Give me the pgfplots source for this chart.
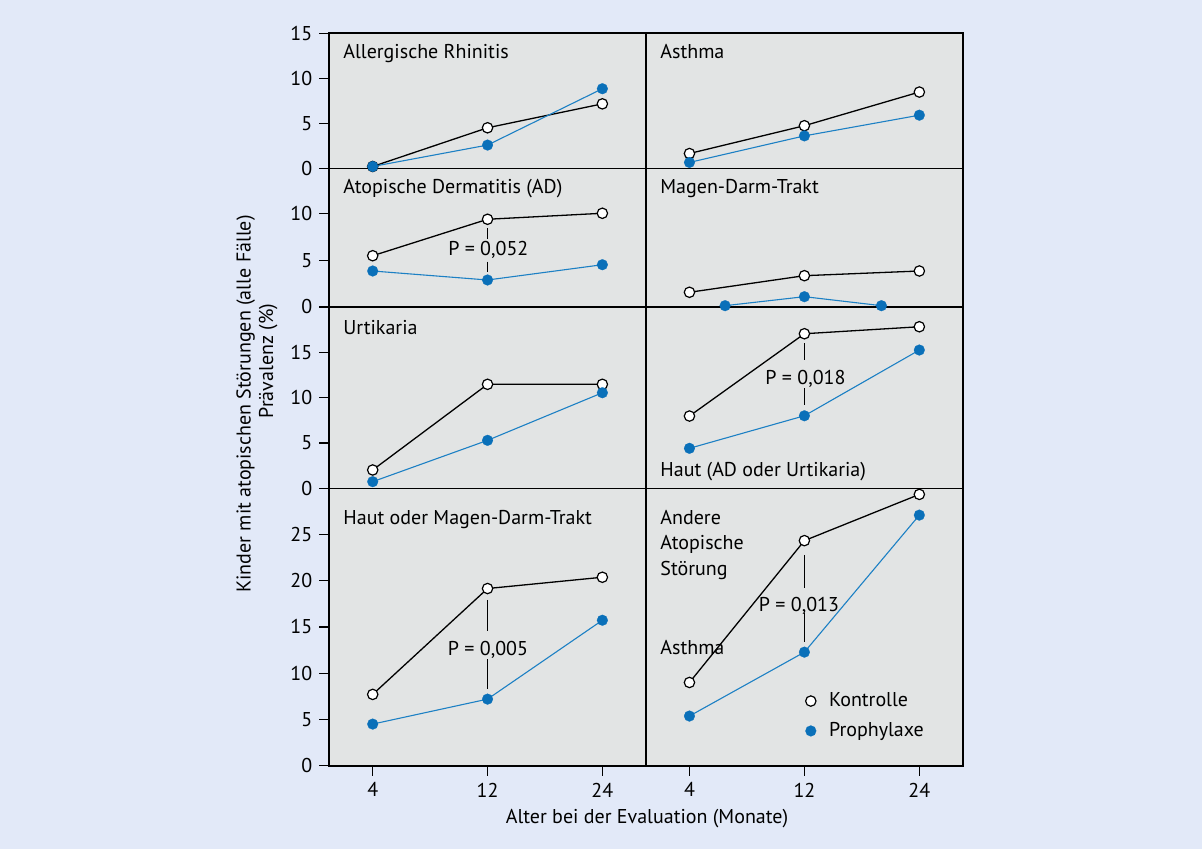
\documentclass[border=0pt]{standalone}
\usepackage{fontspec}
\setmainfont{PT Sans}
\usepackage{pgfplots}
\pgfplotsset{compat=1.18}
\definecolor{bgblue}{RGB}{226,233,248}
\definecolor{panel}{RGB}{226,228,228}
\definecolor{pblue}{RGB}{10,112,185}
\definecolor{lblue}{RGB}{28,128,196}
\newcommand{\tf}{\fontsize{10}{12}\selectfont}
\pgfplotsset{
  pan/.style={scale only axis, xmin=-0.378, xmax=2.38, ymin=0, clip=false,
    axis line style={line width=0.65pt}, tick align=outside, major tick length=5pt,
    tick style={line width=0.6pt,color=black}, xtick=\empty, ytick=\empty,
    ytick pos=left, xtick pos=bottom,
    /pgf/number format/assume math mode=true,
    tick label style={font=\tf}},
  L/.style={pan, width=158.35pt},
  R/.style={pan, width=158.5pt},
  kon/.style={forget plot, black, line width=0.65pt, mark=*, mark size=2.6pt,
    mark options={fill=white, draw=black, line width=0.6pt}},
  pro/.style={forget plot, color=lblue, line width=0.55pt, mark=*, mark size=2.7pt,
    mark options={fill=pblue, draw=pblue, line width=0.1pt}},
}
\begin{document}
\begin{tikzpicture}
\fill[bgblue] (0,0) rectangle (601pt,424.5pt);
\fill[panel] (164.65pt,41.65pt) rectangle (481.5pt,407.85pt);

% Row 4 left
\begin{axis}[L, height=138.7pt, at={(164.65pt,41.65pt)}, anchor=south west, ymax=30,
  ytick={0,5,10,15,20,25}, xtick={0,1,2}, xticklabels={4,12,24}]
\addplot[kon] coordinates {(0,7.71) (1,19.16) (2,20.38)};
\addplot[pro] coordinates {(0,4.5) (1,7.2) (2,15.73)};
\draw[line width=0.6pt] (axis cs:1,17.92) -- (axis cs:1,14.57);
\draw[line width=0.6pt] (axis cs:1,11.51) -- (axis cs:1,8.26);
\end{axis}
% Row 4 right
\begin{axis}[R, height=138.7pt, at={(323pt,41.65pt)}, anchor=south west, ymax=30,
  xtick={0,1,2}, xticklabels={4,12,24},
  legend style={at={(0.5016,0.179)}, anchor=west, draw=none, fill=none, inner sep=0pt,
    font=\tf, row sep=6.4pt, nodes={inner sep=0pt},
    /tikz/every odd column/.append style={column sep=6.4pt}},
  legend cell align=left]
\addplot[kon] coordinates {(0,9.0) (1,24.34) (2,29.34)};
\addplot[pro] coordinates {(0,5.37) (1,12.28) (2,27.1)};
\draw[line width=0.6pt] (axis cs:1,22.79) -- (axis cs:1,19.18);
\draw[line width=0.6pt] (axis cs:1,16.48) -- (axis cs:1,13.41);
\addlegendimage{only marks, mark=*, mark size=2.6pt, mark options={fill=white, draw=black, line width=0.6pt}}
\addlegendentry{Kontrolle}
\addlegendimage{only marks, mark=*, mark size=2.7pt, mark options={fill=pblue, draw=pblue, line width=0.1pt}}
\addlegendentry{Prophylaxe}
\end{axis}
% Row 3 left
\begin{axis}[L, height=90.65pt, at={(164.65pt,180.35pt)}, anchor=south west, ymax=20,
  ytick={0,5,10,15}]
\addplot[kon] coordinates {(0,2.02) (1,11.47) (2,11.47)};
\addplot[pro] coordinates {(0,0.73) (1,5.29) (2,10.54)};
\end{axis}
% Row 3 right
\begin{axis}[R, height=90.65pt, at={(323pt,180.35pt)}, anchor=south west, ymax=20]
\addplot[kon] coordinates {(0,7.97) (1,17.05) (2,17.82)};
\addplot[pro] coordinates {(0,4.41) (1,8.0) (2,15.25)};
\draw[line width=0.6pt] (axis cs:1,16.0) -- (axis cs:1,14.15);
\draw[line width=0.6pt] (axis cs:1,11.03) -- (axis cs:1,9.19);
\end{axis}
% Row 2 left
\begin{axis}[L, height=69.35pt, at={(164.65pt,271pt)}, anchor=south west, ymax=14.8,
  ytick={0,5,10}]
\addplot[kon] coordinates {(0,5.47) (1,9.36) (2,10.0)};
\addplot[pro] coordinates {(0,3.84) (1,2.88) (2,4.51)};
\draw[line width=0.6pt] (axis cs:1,8.40) -- (axis cs:1,7.26);
\draw[line width=0.6pt] (axis cs:1,4.83) -- (axis cs:1,3.77);
\end{axis}
% Row 2 right
\begin{axis}[R, height=69.35pt, at={(323pt,271pt)}, anchor=south west, ymax=14.8]
\addplot[kon] coordinates {(0,1.57) (1,3.34) (2,3.84)};
\addplot[pro] coordinates {(0.31,0.14) (1,1.1) (1.67,0.14)};
\end{axis}
% Row 1 left
\begin{axis}[L, height=67.5pt, at={(164.65pt,340.35pt)}, anchor=south west, ymax=15,
  ytick={0,5,10,15}]
\addplot[kon] coordinates {(0,0.2) (1,4.5) (2,7.16)};
\addplot[pro] coordinates {(0,0.2) (1,2.58) (2,8.84)};
\end{axis}
% Row 1 right
\begin{axis}[R, height=67.5pt, at={(323pt,340.35pt)}, anchor=south west, ymax=15]
\addplot[kon] coordinates {(0,1.64) (1,4.73) (2,8.47)};
\addplot[pro] coordinates {(0,0.65) (1,3.6) (2,5.9)};
\end{axis}

\draw[line width=1pt] (164.65pt,41.65pt) rectangle (481.5pt,407.85pt);

\begin{scope}[every node/.style={font=\tf, inner sep=0pt}]
\node[anchor=base west] at (171.5pt,395.35pt) {Allergische Rhinitis};
\node[anchor=base west] at (330pt,395.35pt) {Asthma};
\node[anchor=base west] at (171.5pt,327.85pt) {Atopische Dermatitis (AD)};
\node[anchor=base west] at (330pt,327.85pt) {Magen-Darm-Trakt};
\node[anchor=base west] at (171.5pt,257pt) {Urtikaria};
\node[anchor=base west] at (330pt,186.15pt) {Haut (AD oder Urtikaria)};
\node[anchor=base west] at (171.5pt,162.35pt) {Haut oder Magen-Darm-Trakt};
\node[anchor=base west] at (330pt,162.35pt) {Andere};
\node[anchor=base west] at (330pt,149.5pt) {Atopische};
\node[anchor=base west] at (330pt,136.65pt) {Störung};
\node[anchor=base west] at (330pt,97pt) {Asthma};
\node[anchor=base] at (244.15pt,296.65pt) {P = 0,052};
\node[anchor=base] at (402.75pt,232pt) {P = 0,018};
\node[anchor=base] at (244pt,96.65pt) {P = 0,005};
\node[anchor=base] at (399.5pt,118.65pt) {P = 0,013};
\node[anchor=base] at (323.5pt,12.5pt) {Alter bei der Evaluation (Monate)};
\node[rotate=90, anchor=base] at (125.3pt,222.5pt) {Kinder mit atopischen Störungen (alle Fälle)};
\node[rotate=90, anchor=base] at (136.6pt,244pt) {Prävalenz (\%)};
\end{scope}
\pgfresetboundingbox
\path[use as bounding box] (0,0) rectangle (601pt,424.5pt);
\end{tikzpicture}
\end{document}
